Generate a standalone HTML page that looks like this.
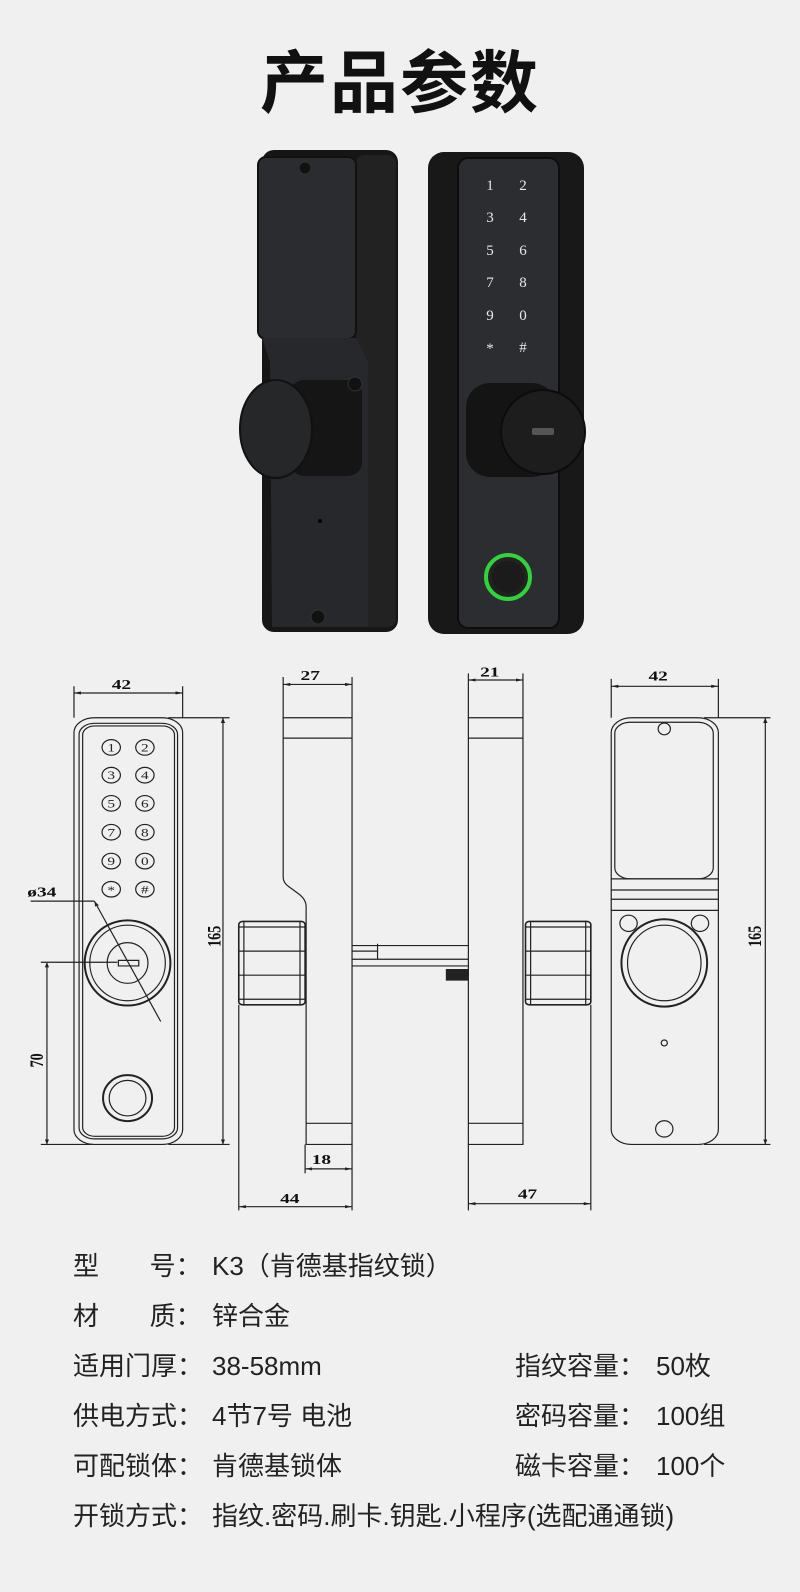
<!DOCTYPE html>
<html><head><meta charset="utf-8"><style>
html,body{margin:0;padding:0}
body{width:800px;height:1592px;background:#f0f0f0;position:relative;overflow:hidden;font-family:"Liberation Sans","Noto Sans CJK SC",sans-serif}
.t{position:absolute;left:0;width:800px;top:42px;text-align:center;font-size:68px;font-weight:bold;color:#111;letter-spacing:2px;line-height:84px}
.r{position:absolute;font-size:26px;color:#222;line-height:30px;white-space:nowrap}
svg{position:absolute;left:0}
</style></head><body>
<div class="t">产品参数</div>

<svg style="top:0" width="800" height="640" viewBox="0 0 800 640">
 <rect x="262" y="150" width="136" height="482" rx="12" fill="#161616"/>
 <rect x="356" y="155" width="40" height="472" rx="8" fill="#222"/>
 <rect x="258" y="157" width="98" height="182" rx="8" fill="#2b2c30" stroke="#111" stroke-width="2"/>
 <path d="M262 338 L356 338 L368 362 L368 627 L272 627 L270 362 Z" fill="#27282b"/>
 <rect x="290" y="380" width="72" height="96" rx="14" fill="#151515"/>
 <ellipse cx="276" cy="429" rx="36" ry="49" fill="#262729" stroke="#111" stroke-width="2"/>
 <circle cx="305" cy="168" r="6" fill="#111" stroke="#333"/>
 <circle cx="355" cy="384" r="7" fill="#111" stroke="#333"/>
 <circle cx="318" cy="617" r="7" fill="#111" stroke="#333"/>
 <circle cx="320" cy="521" r="2" fill="#000"/>
 <rect x="428" y="152" width="156" height="482" rx="16" fill="#181818"/>
 <rect x="458" y="158" width="101" height="470" rx="10" fill="#2b2d31" stroke="#0d0d0d" stroke-width="2"/>
 <g fill="#e8e8e8" font-family="Liberation Serif,serif" font-size="15" text-anchor="middle">
  <text x="490" y="190">1</text><text x="523" y="190">2</text>
  <text x="490" y="222">3</text><text x="523" y="222">4</text>
  <text x="490" y="255">5</text><text x="523" y="255">6</text>
  <text x="490" y="287">7</text><text x="523" y="287">8</text>
  <text x="490" y="320">9</text><text x="523" y="320">0</text>
  <text x="490" y="353">*</text><text x="523" y="352">#</text>
 </g>
 <rect x="466" y="383" width="90" height="94" rx="24" fill="#141414"/>
 <circle cx="543" cy="432" r="42" fill="#1d1d1d" stroke="#0c0c0c" stroke-width="2"/>
 <rect x="532" y="428" width="22" height="7" rx="2" fill="#555"/>
 <circle cx="508" cy="577" r="22" fill="#222" stroke="#31d23b" stroke-width="4"/>
 <circle cx="508" cy="577" r="16" fill="#1b1b1b"/>
</svg>

<svg style="top:640px" width="800" height="580" viewBox="0 0 1568 1566" preserveAspectRatio="none">
<defs>
 <marker id="a" viewBox="0 0 10 10" refX="10" refY="5" markerWidth="14" markerHeight="14" orient="auto-start-reverse" markerUnits="userSpaceOnUse"><path d="M0 2L10 5L0 8Z" fill="#222"/></marker>
</defs>
<g fill="none" stroke="#222" stroke-width="1.2">
 <rect x="145" y="210" width="213" height="1152" rx="40" vector-effect="non-scaling-stroke"/>
 <rect x="155" y="225" width="193" height="1122" rx="30" vector-effect="non-scaling-stroke"/>
 <rect x="162" y="232" width="180" height="1108" rx="24" vector-effect="non-scaling-stroke"/>
 <g>
  <ellipse cx="218" cy="290" rx="18" ry="21" vector-effect="non-scaling-stroke"/><ellipse cx="284" cy="290" rx="18" ry="21" vector-effect="non-scaling-stroke"/>
  <ellipse cx="218" cy="365" rx="18" ry="21" vector-effect="non-scaling-stroke"/><ellipse cx="284" cy="365" rx="18" ry="21" vector-effect="non-scaling-stroke"/>
  <ellipse cx="218" cy="441" rx="18" ry="21" vector-effect="non-scaling-stroke"/><ellipse cx="284" cy="441" rx="18" ry="21" vector-effect="non-scaling-stroke"/>
  <ellipse cx="218" cy="519" rx="18" ry="21" vector-effect="non-scaling-stroke"/><ellipse cx="284" cy="519" rx="18" ry="21" vector-effect="non-scaling-stroke"/>
  <ellipse cx="218" cy="597" rx="18" ry="21" vector-effect="non-scaling-stroke"/><ellipse cx="284" cy="597" rx="18" ry="21" vector-effect="non-scaling-stroke"/>
  <ellipse cx="218" cy="673" rx="18" ry="21" vector-effect="non-scaling-stroke"/><ellipse cx="284" cy="673" rx="18" ry="21" vector-effect="non-scaling-stroke"/>
 </g>
 <ellipse cx="250" cy="872" rx="84" ry="115" stroke-width="2" vector-effect="non-scaling-stroke"/>
 <ellipse cx="250" cy="872" rx="74" ry="102" vector-effect="non-scaling-stroke"/>
 <ellipse cx="250" cy="872" rx="40" ry="55" vector-effect="non-scaling-stroke"/>
 <rect x="232" y="865" width="40" height="15" vector-effect="non-scaling-stroke"/>
 <ellipse cx="250" cy="1237" rx="48" ry="62" stroke-width="2" vector-effect="non-scaling-stroke"/>
 <ellipse cx="250" cy="1237" rx="36" ry="48" vector-effect="non-scaling-stroke"/>
 <path d="M145 125V210M358 125V210M330 210H450M330 1362H450M80 870H230M80 1362H180M60 705H185" vector-effect="non-scaling-stroke"/>
 <path d="M145 143H358" marker-start="url(#a)" marker-end="url(#a)" vector-effect="non-scaling-stroke"/>
 <path d="M437 210V1362" marker-start="url(#a)" marker-end="url(#a)" vector-effect="non-scaling-stroke"/>
 <path d="M92 870V1362" marker-start="url(#a)" marker-end="url(#a)" vector-effect="non-scaling-stroke"/>
 <path d="M185 705L315 1030" marker-start="url(#a)" vector-effect="non-scaling-stroke"/>
 <path d="M555 210H690V1362H600V720Q600 700 585 685L565 665Q555 655 555 640V210ZM555 265H690M600 1305H690" vector-effect="non-scaling-stroke"/>
 <rect x="468" y="760" width="130" height="225" rx="8" stroke-width="1.6" vector-effect="non-scaling-stroke"/>
 <path d="M468 775H598M468 840H598M468 905H598M468 970H598M478 760V985M588 760V985" vector-effect="non-scaling-stroke"/>
 <path d="M690 825H918M690 862H918M690 880H918M740 820V862M690 840H740" vector-effect="non-scaling-stroke"/>
 <path d="M555 100V210M690 100V210M598 1362V1440M690 1362V1540M468 985V1540" vector-effect="non-scaling-stroke"/>
 <path d="M555 120H690" marker-start="url(#a)" marker-end="url(#a)" vector-effect="non-scaling-stroke"/>
 <path d="M598 1428H690" marker-start="url(#a)" marker-end="url(#a)" vector-effect="non-scaling-stroke"/>
 <path d="M468 1530H690" marker-start="url(#a)" marker-end="url(#a)" vector-effect="non-scaling-stroke"/>
 <rect x="918" y="210" width="107" height="1152" vector-effect="non-scaling-stroke"/>
 <path d="M918 265H1025M918 1305H1025" vector-effect="non-scaling-stroke"/>
 <rect x="875" y="890" width="43" height="28" fill="#222" vector-effect="non-scaling-stroke"/>
 <rect x="1030" y="760" width="128" height="225" rx="8" stroke-width="1.6" vector-effect="non-scaling-stroke"/>
 <path d="M1030 775H1158M1030 840H1158M1030 905H1158M1030 970H1158M1040 760V985M1148 760V985" vector-effect="non-scaling-stroke"/>
 <path d="M918 90V210M1025 90V210M918 1362V1540M1158 985V1540" vector-effect="non-scaling-stroke"/>
 <path d="M918 108H1025" marker-start="url(#a)" marker-end="url(#a)" vector-effect="non-scaling-stroke"/>
 <path d="M918 1522H1158" marker-start="url(#a)" marker-end="url(#a)" vector-effect="non-scaling-stroke"/>
 <rect x="1198" y="210" width="210" height="1152" rx="40" vector-effect="non-scaling-stroke"/>
 <rect x="1205" y="222" width="193" height="423" rx="30" vector-effect="non-scaling-stroke"/>
 <path d="M1198 645H1408M1198 675H1408M1198 700H1408M1198 730H1408" vector-effect="non-scaling-stroke"/>
 <ellipse cx="1302" cy="240" rx="12" ry="16" vector-effect="non-scaling-stroke"/>
 <ellipse cx="1302" cy="872" rx="84" ry="118" stroke-width="2" vector-effect="non-scaling-stroke"/>
 <ellipse cx="1302" cy="872" rx="72" ry="102" vector-effect="non-scaling-stroke"/>
 <ellipse cx="1232" cy="765" rx="17" ry="22" vector-effect="non-scaling-stroke"/>
 <ellipse cx="1372" cy="765" rx="17" ry="22" vector-effect="non-scaling-stroke"/>
 <ellipse cx="1302" cy="1320" rx="17" ry="22" vector-effect="non-scaling-stroke"/>
 <ellipse cx="1302" cy="1088" rx="6" ry="8" vector-effect="non-scaling-stroke"/>
 <path d="M1198 105V210M1408 105V210M1380 210H1510M1380 1362H1510" vector-effect="non-scaling-stroke"/>
 <path d="M1198 125H1408" marker-start="url(#a)" marker-end="url(#a)" vector-effect="non-scaling-stroke"/>
 <path d="M1500 210V1362" marker-start="url(#a)" marker-end="url(#a)" vector-effect="non-scaling-stroke"/>
</g>
<g fill="#222" font-family="Liberation Serif,serif" font-size="30" text-anchor="middle">
 <text x="218" y="301">1</text><text x="284" y="301">2</text>
 <text x="218" y="376">3</text><text x="284" y="376">4</text>
 <text x="218" y="452">5</text><text x="284" y="452">6</text>
 <text x="218" y="530">7</text><text x="284" y="530">8</text>
 <text x="218" y="608">9</text><text x="284" y="608">0</text>
 <text x="218" y="686">*</text><text x="284" y="684">#</text>
</g>
<g fill="#111" font-family="Liberation Serif,serif" font-weight="bold" font-size="38" text-anchor="middle">
 <text x="238" y="132">42</text>
 <text x="608" y="108">27</text>
 <text x="960" y="98">21</text>
 <text x="1290" y="110">42</text>
 <text x="630" y="1415">18</text>
 <text x="568" y="1520">44</text>
 <text x="1034" y="1508">47</text>
 <text x="82" y="693">ø34</text>
 <text transform="translate(432,800) rotate(-90)">165</text>
 <text transform="translate(1492,800) rotate(-90)">165</text>
 <text transform="translate(84,1135) rotate(-90)">70</text>
</g>
</svg>

<div class="r" style="left:73px;top:1251px">型&nbsp;&nbsp;&nbsp;&nbsp;&nbsp;&nbsp;&nbsp;号：</div><div class="r" style="left:212px;top:1251px">K3（肯德基指纹锁）</div>
<div class="r" style="left:73px;top:1301px">材&nbsp;&nbsp;&nbsp;&nbsp;&nbsp;&nbsp;&nbsp;质：</div><div class="r" style="left:212px;top:1301px">锌合金</div>
<div class="r" style="left:73px;top:1351px">适用门厚：</div><div class="r" style="left:212px;top:1351px">38-58mm</div>
<div class="r" style="left:515px;top:1351px">指纹容量：</div><div class="r" style="left:656px;top:1351px">50枚</div>
<div class="r" style="left:73px;top:1401px">供电方式：</div><div class="r" style="left:212px;top:1401px">4节7号 电池</div>
<div class="r" style="left:515px;top:1401px">密码容量：</div><div class="r" style="left:656px;top:1401px">100组</div>
<div class="r" style="left:73px;top:1451px">可配锁体：</div><div class="r" style="left:212px;top:1451px">肯德基锁体</div>
<div class="r" style="left:515px;top:1451px">磁卡容量：</div><div class="r" style="left:656px;top:1451px">100个</div>
<div class="r" style="left:73px;top:1501px">开锁方式：</div><div class="r" style="left:212px;top:1501px">指纹.密码.刷卡.钥匙.小程序(选配通通锁)</div>
</body></html>
